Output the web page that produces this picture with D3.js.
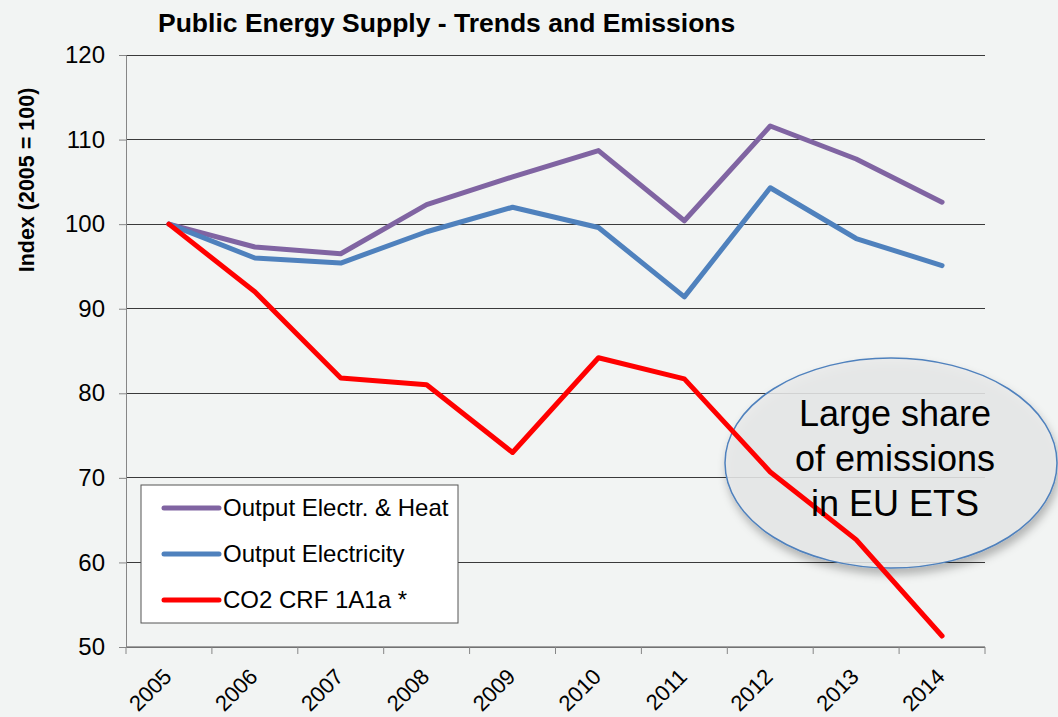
<!DOCTYPE html>
<html>
<head>
<meta charset="utf-8">
<script src="https://cdn.jsdelivr.net/npm/d3@7"></script>
<style>
  body { margin: 0; background: #f2f4f3; }
  svg { display: block; }
</style>
</head>
<body>
<script>
// data
const years = ["2005", "2006", "2007", "2008", "2009", "2010", "2011", "2012", "2013", "2014"];
const electrHeat = [100, 97.3, 96.5, 102.3, 105.6, 108.7, 100.4, 111.6, 107.7, 102.6];
const electricity = [100, 96.0, 95.4, 99.1, 102.0, 99.6, 91.4, 104.3, 98.3, 95.1];
const co2 = [100, 92.0, 81.8, 81.0, 73.0, 84.2, 81.7, 70.7, 62.7, 51.3];
const yTicks = [50, 60, 70, 80, 90, 100, 110, 120];

const series = [
  { name: "Output Electr. & Heat", values: electrHeat, color: "#8064a2" },
  { name: "Output Electricity", values: electricity, color: "#4f81bd" },
  { name: "CO2 CRF 1A1a *", values: co2, color: "#ff0000" }
];

const W = 1058, H = 717;
const m = { left: 126, right: 73, top: 55, bottom: 70 };
const FONT = "Liberation Sans, Arial, sans-serif";

const svg = d3.select("body").append("svg").attr("width", W).attr("height", H);

const x = d3.scaleBand().domain(years).range([m.left, W - m.right]);
const y = d3.scaleLinear().domain([50, 120]).range([H - m.bottom, m.top]);

// shadow for the bubble
const defs = svg.append("defs");
const f = defs.append("filter").attr("id", "shadow").attr("x", "-20%").attr("y", "-20%").attr("width", "140%").attr("height", "150%");
f.append("feDropShadow").attr("dx", 2).attr("dy", 6).attr("stdDeviation", 4).attr("flood-color", "#000").attr("flood-opacity", 0.3);

// gridlines
svg.append("g").selectAll("line").data(yTicks).join("line")
  .attr("x1", m.left).attr("x2", W - m.right)
  .attr("y1", d => y(d)).attr("y2", d => y(d))
  .attr("stroke", "#3a3a3a").attr("stroke-width", 1)
  .attr("shape-rendering", "crispEdges");

// y axis
const yAxis = svg.append("g").attr("transform", `translate(${m.left},0)`)
  .call(d3.axisLeft(y).tickValues(yTicks).tickSize(7).tickPadding(14));
yAxis.select(".domain").attr("stroke", "#868686");
yAxis.selectAll(".tick line").attr("stroke", "#868686");
yAxis.selectAll("text").attr("font-family", FONT).attr("font-size", 24).attr("fill", "#000");

// x axis, ticks on band edges
const xg = svg.append("g").attr("transform", `translate(0,${y(50)})`);
xg.append("line").attr("x1", m.left).attr("x2", W - m.right).attr("stroke", "#868686").attr("stroke-width", 1.5);
const edges = years.map(d => x(d)).concat([x(years[years.length - 1]) + x.bandwidth()]);
xg.selectAll(".tk").data(edges).join("line").attr("class", "tk")
  .attr("x1", d => d).attr("x2", d => d).attr("y1", 0).attr("y2", 7)
  .attr("stroke", "#868686");
xg.selectAll("text").data(years).join("text")
  .attr("transform", d => `translate(${x(d) + x.bandwidth() / 2 + 4},31) rotate(-45)`)
  .attr("text-anchor", "end")
  .attr("font-family", FONT).attr("font-size", 22)
  .text(d => d);

// y axis title
svg.append("text")
  .attr("transform", `translate(34,180) rotate(-90)`)
  .attr("text-anchor", "middle")
  .attr("font-family", FONT).attr("font-weight", "bold").attr("font-size", 21.5)
  .text("Index (2005 = 100)");

// title
svg.append("text")
  .attr("x", 158).attr("y", 32)
  .attr("font-family", FONT).attr("font-weight", "bold").attr("font-size", 26.5)
  .text("Public Energy Supply - Trends and Emissions");

// bubble behind the lines
const bubble = { cx: 891, cy: 463, rx: 166, ry: 105 };
svg.append("ellipse")
  .attr("cx", bubble.cx).attr("cy", bubble.cy).attr("rx", bubble.rx).attr("ry", bubble.ry)
  .attr("fill", "#e9eaea").attr("fill-opacity", 0.85)
  .attr("stroke", "#4f81bd").attr("stroke-width", 1.5)
  .attr("filter", "url(#shadow)");

// lines
const line = d3.line().x((d, i) => x(years[i]) + x.bandwidth() / 2).y(d => y(d));
svg.append("g").selectAll("path").data(series).join("path")
  .attr("d", d => line(d.values))
  .attr("fill", "none").attr("stroke", d => d.color).attr("stroke-width", 5)
  .attr("stroke-linejoin", "round").attr("stroke-linecap", "round");

// bubble text
svg.append("text")
  .attr("x", 895).attr("y", 426)
  .attr("text-anchor", "middle")
  .attr("font-family", FONT).attr("font-size", 36)
  .selectAll("tspan").data(["Large share", "of emissions", "in EU ETS"]).join("tspan")
  .attr("x", 895).attr("dy", (d, i) => i === 0 ? 0 : 45).text(d => d);

// legend
const lg = svg.append("g");
lg.append("rect").attr("x", 141).attr("y", 485).attr("width", 317).attr("height", 138)
  .attr("fill", "#fff").attr("stroke", "#555").attr("stroke-width", 1);
const li = lg.selectAll("g").data(series).join("g")
  .attr("transform", (d, i) => `translate(164,${508 + i * 46})`);
li.append("line").attr("x1", 0).attr("x2", 55)
  .attr("stroke", d => d.color).attr("stroke-width", 5).attr("stroke-linecap", "round");
li.append("text").attr("x", 59).attr("dy", "0.35em")
  .attr("font-family", FONT).attr("font-size", 24)
  .text(d => d.name);
</script>
</body>
</html>
